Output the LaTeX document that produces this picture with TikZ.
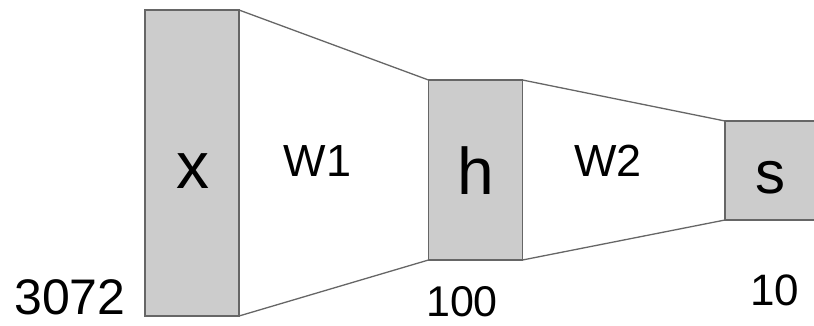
\documentclass[tikz,border=0pt]{standalone}
\usepackage{fontspec}
\setmainfont{Liberation Sans}
\definecolor{boxfill}{HTML}{CCCCCC}
\definecolor{boxline}{HTML}{666666}
\begin{document}
\begin{tikzpicture}[x=1pt,y=-1pt,
  layer/.style={draw=boxline,fill=boxfill,line width=1.5pt,inner sep=0pt,outer sep=0pt,rectangle},
  conn/.style={draw=boxline,line width=1.3pt},
  txt/.style={inner sep=0pt,anchor=base,text=black}]
\useasboundingbox (0,0) rectangle (814,325);
\node[layer,minimum width=94pt,minimum height=306pt] (x) at (192,163) {};
\node[layer,minimum width=94pt,minimum height=180pt] (h) at (475.5,170) {};
\node[layer,minimum width=94pt,minimum height=99pt] (s) at (772,170.5) {};
\draw[conn] (x.north east) -- (h.north west);
\draw[conn] (x.south east) -- (h.south west);
\draw[conn] (h.north east) -- (s.north west);
\draw[conn] (h.south east) -- (s.south west);
\node[txt,font=\fontsize{66}{66}\selectfont] (xl) at (193,188) {x};
\node[txt,font=\fontsize{66}{66}\selectfont] (hl) at (476,194) {h};
\node[txt,font=\fontsize{60}{60}\selectfont] (sl) at (770,193) {s};
\node[txt,font=\fontsize{45}{45}\selectfont] (w1) at (317.5,176) {W1};
\node[txt,font=\fontsize{45}{45}\selectfont] (w2) at (608,176) {W2};
\node[txt,font=\fontsize{43}{43}\selectfont] (n100) at (462,316) {100};
\node[txt,font=\fontsize{44}{44}\selectfont] (n10) at (774.5,305) {10};
\node[txt,font=\fontsize{50}{50}\selectfont] (n3072) at (70,314) {3072};
\end{tikzpicture}
\end{document}
